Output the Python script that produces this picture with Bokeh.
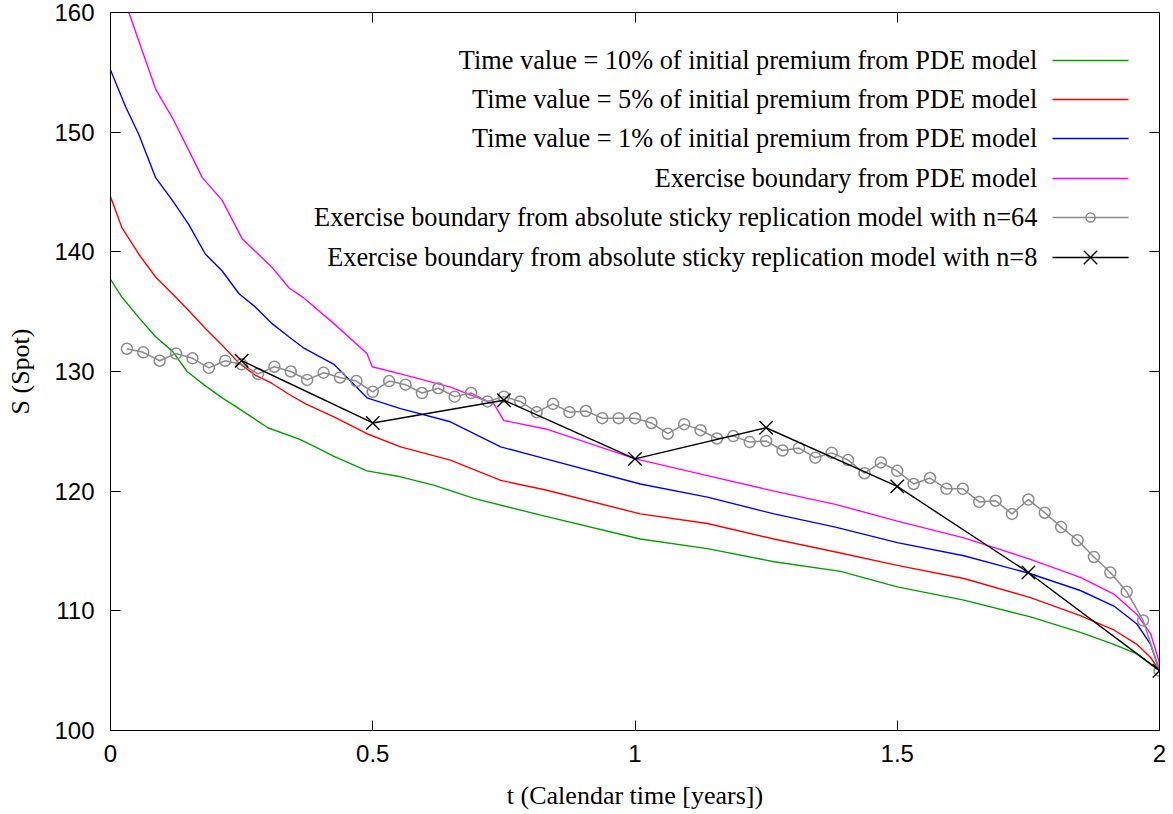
from bokeh.plotting import figure
from bokeh.models import Range1d, LinearAxis, FixedTicker
from bokeh.embed import file_html
from bokeh.resources import INLINE
from bokeh.core.properties import value

# ---------------- data ----------------
green_t = [0.0, 0.022, 0.054, 0.086, 0.118, 0.146, 0.181, 0.213, 0.245, 0.300, 0.362, 0.400,
           0.426, 0.489, 0.553, 0.616, 0.693, 0.820, 1.010, 1.138, 1.265, 1.392, 1.500,
           1.627, 1.754, 1.849, 1.913, 1.957, 2.0]
green_S = [137.7, 136.2, 134.5, 132.9, 131.7, 130.0, 128.8, 127.8, 126.9, 125.3, 124.3, 123.5,
           122.9, 121.7, 121.2, 120.5, 119.4, 118.0, 116.0, 115.2, 114.1, 113.3, 112.0,
           110.9, 109.5, 108.2, 107.2, 106.4, 105.0]

red_t = [0.0, 0.022, 0.054, 0.086, 0.118, 0.149, 0.181, 0.213, 0.245, 0.276, 0.308, 0.340,
         0.372, 0.426, 0.489, 0.553, 0.648, 0.744, 0.830, 1.010, 1.138, 1.265, 1.385, 1.500,
         1.627, 1.754, 1.849, 1.913, 1.957, 1.983, 2.0]
red_S = [144.6, 142.0, 139.8, 137.9, 136.5, 135.1, 133.6, 132.2, 130.7, 129.7, 129.0, 128.1,
         127.3, 126.2, 124.8, 123.7, 122.6, 120.9, 120.1, 118.1, 117.3, 116.0, 114.9, 113.8,
         112.7, 111.1, 109.6, 108.4, 107.2, 106.1, 105.0]

blue_t = [0.0, 0.029, 0.054, 0.086, 0.118, 0.149, 0.181, 0.213, 0.245, 0.276, 0.308, 0.340,
          0.367, 0.426, 0.489, 0.553, 0.648, 0.744, 0.830, 1.010, 1.138, 1.265, 1.382, 1.500,
          1.627, 1.754, 1.849, 1.913, 1.957, 1.983, 2.0]
blue_S = [155.2, 152.1, 149.8, 146.2, 144.3, 142.3, 139.8, 138.4, 136.5, 135.4, 134.0, 132.9,
          132.0, 130.6, 127.8, 126.9, 125.8, 123.7, 122.7, 120.6, 119.5, 118.1, 117.0, 115.7,
          114.6, 113.1, 111.7, 110.4, 108.9, 107.2, 105.0]

magenta_t = [0.0, 0.035, 0.086, 0.118, 0.149, 0.175, 0.213, 0.251, 0.308, 0.340, 0.367, 0.426,
             0.489, 0.499, 0.553, 0.648, 0.731, 0.750, 0.830, 1.001, 1.138, 1.265, 1.382,
             1.500, 1.627, 1.754, 1.849, 1.913, 1.957, 1.983, 1.999, 2.0]
magenta_S = [164.5, 160.0, 153.6, 151.2, 148.5, 146.2, 144.3, 141.1, 138.7, 137.0, 136.2, 134.0,
             131.5, 130.4, 129.8, 128.7, 127.3, 125.9, 125.2, 122.7, 121.3, 120.0, 118.9,
             117.5, 116.1, 114.3, 112.8, 111.4, 109.7, 108.1, 105.8, 105.0]

n64_t = [k / 32 for k in range(1, 65)]
n64_S = [131.9, 131.6, 130.9, 131.5, 131.1, 130.3, 130.9, 130.6, 129.8, 130.4, 130.0, 129.3,
         129.9, 129.5, 129.2, 128.3, 129.2, 128.9, 128.2, 128.6, 127.9, 128.2, 127.5, 127.9,
         127.5, 126.6, 127.3, 126.6, 126.7, 126.1, 126.1, 126.1, 125.7, 124.8, 125.6, 125.1,
         124.4, 124.6, 124.1, 124.2, 123.4, 123.6, 122.8, 123.2, 122.6, 121.5, 122.4, 121.7,
         120.6, 121.1, 120.2, 120.2, 119.1, 119.2, 118.1, 119.3, 118.2, 117.0, 115.9, 114.5,
         113.2, 111.6, 109.2, 105.0]

n8_t = [0.25, 0.5, 0.75, 1.0, 1.25, 1.5, 1.75, 2.0]
n8_S = [130.9, 125.7, 127.6, 122.7, 125.3, 120.4, 113.2, 105.0]

x_ticks = [0, 0.5, 1, 1.5, 2]
y_ticks = [100, 110, 120, 130, 140, 150, 160]

x_title = "t (Calendar time [years])"
y_title = "S (Spot)"

legend_labels = [
    "Time value = 10% of initial premium from PDE model",
    "Time value = 5% of initial premium from PDE model",
    "Time value = 1% of initial premium from PDE model",
    "Exercise boundary from PDE model",
    "Exercise boundary from absolute sticky replication model with n=64",
    "Exercise boundary from absolute sticky replication model with n=8",
]

# ---------------- styles / layout ----------------
C_GREEN = "#00a000"
C_RED = "#ff0000"
C_BLUE = "#0000ff"
C_MAGENTA = "#ff00ff"
C_GREY = "#8c8c8c"
C_BLACK = "#000000"
SERIF = "Liberation Serif"
SANS = "Liberation Sans"
LW = 1.4

# legend placement (data coordinates of the fixed axes)
LEG_TEXT_X = 1.767
LEG_X0, LEG_X1 = 1.796, 1.941
LEG_MID = (LEG_X0 + LEG_X1) / 2
LEG_Y = [155.99, 152.73, 149.47, 146.13, 142.87, 139.53]

W, H = 1172, 813
p = figure(width=W, height=H, x_range=Range1d(0, 2), y_range=Range1d(100, 160),
           output_backend="svg", toolbar_location=None,
           min_border_left=110, min_border_right=W - 1159,
           min_border_top=12, min_border_bottom=H - 730)
p.grid.visible = False
p.outline_line_color = "black"
p.outline_line_width = 1
p.background_fill_color = "white"
p.border_fill_color = "white"


def style_axis(ax, ticks, show_labels=True):
    ax.ticker = FixedTicker(ticks=ticks)
    ax.minor_tick_line_color = None
    ax.major_tick_in = 10
    ax.major_tick_out = 0
    ax.major_tick_line_color = "black"
    ax.major_tick_line_width = 1
    ax.axis_line_color = "black"
    ax.axis_line_width = 1
    if show_labels:
        ax.major_label_text_font = SANS
        ax.major_label_text_font_size = "24px"
        ax.major_label_text_color = "black"
        ax.axis_label_text_font = SERIF
        ax.axis_label_text_font_size = "26px"
        ax.axis_label_text_font_style = "normal"
        ax.axis_label_text_color = "black"
    else:
        ax.axis_label = None
        ax.major_label_text_font_size = "0px"
        ax.major_label_text_alpha = 0
        ax.major_label_standoff = 0


style_axis(p.xaxis[0], x_ticks)
p.xaxis[0].major_label_standoff = 14
p.xaxis[0].axis_label = x_title
p.xaxis[0].axis_label_standoff = 16
style_axis(p.yaxis[0], y_ticks)
p.yaxis[0].major_label_standoff = 16
p.yaxis[0].axis_label = y_title
p.yaxis[0].axis_label_standoff = 16

top_ax = LinearAxis()
style_axis(top_ax, x_ticks, show_labels=False)
p.add_layout(top_ax, "above")
right_ax = LinearAxis()
style_axis(right_ax, y_ticks, show_labels=False)
p.add_layout(right_ax, "right")

# ---------------- series ----------------
p.line(green_t, green_S, line_color=C_GREEN, line_width=LW)
p.line(red_t, red_S, line_color=C_RED, line_width=LW)
p.line(blue_t, blue_S, line_color=C_BLUE, line_width=LW)
p.line(magenta_t, magenta_S, line_color=C_MAGENTA, line_width=LW)

p.line(n64_t, n64_S, line_color=C_GREY, line_width=1.5)
p.scatter(n64_t, n64_S, marker="circle", size=11, fill_color=None, line_color=C_GREY, line_width=1.5)

p.line(n8_t, n8_S, line_color=C_BLACK, line_width=1.4)
p.scatter(n8_t, n8_S, marker="x", size=19, line_color=C_BLACK, line_width=1.4)

# ---------------- legend (gnuplot style: text right, sample at right) ----------------
leg_colors = [C_GREEN, C_RED, C_BLUE, C_MAGENTA, C_GREY, C_BLACK]
p.text(x=[LEG_TEXT_X] * len(legend_labels), y=LEG_Y, text=legend_labels,
       text_font=value(SERIF), text_font_size="26.3px", text_align="right",
       text_baseline="middle", text_color="black")
p.segment(x0=[LEG_X0] * 6, y0=LEG_Y, x1=[LEG_X1] * 6, y1=LEG_Y,
          line_color=leg_colors, line_width=LW)
p.scatter([LEG_MID], [LEG_Y[4]], marker="circle", size=9, fill_color=None,
          line_color=C_GREY, line_width=1.5)
p.scatter([LEG_MID], [LEG_Y[5]], marker="x", size=19, line_color=C_BLACK, line_width=1.4)

open("out.html", "w").write(file_html(p, INLINE))
